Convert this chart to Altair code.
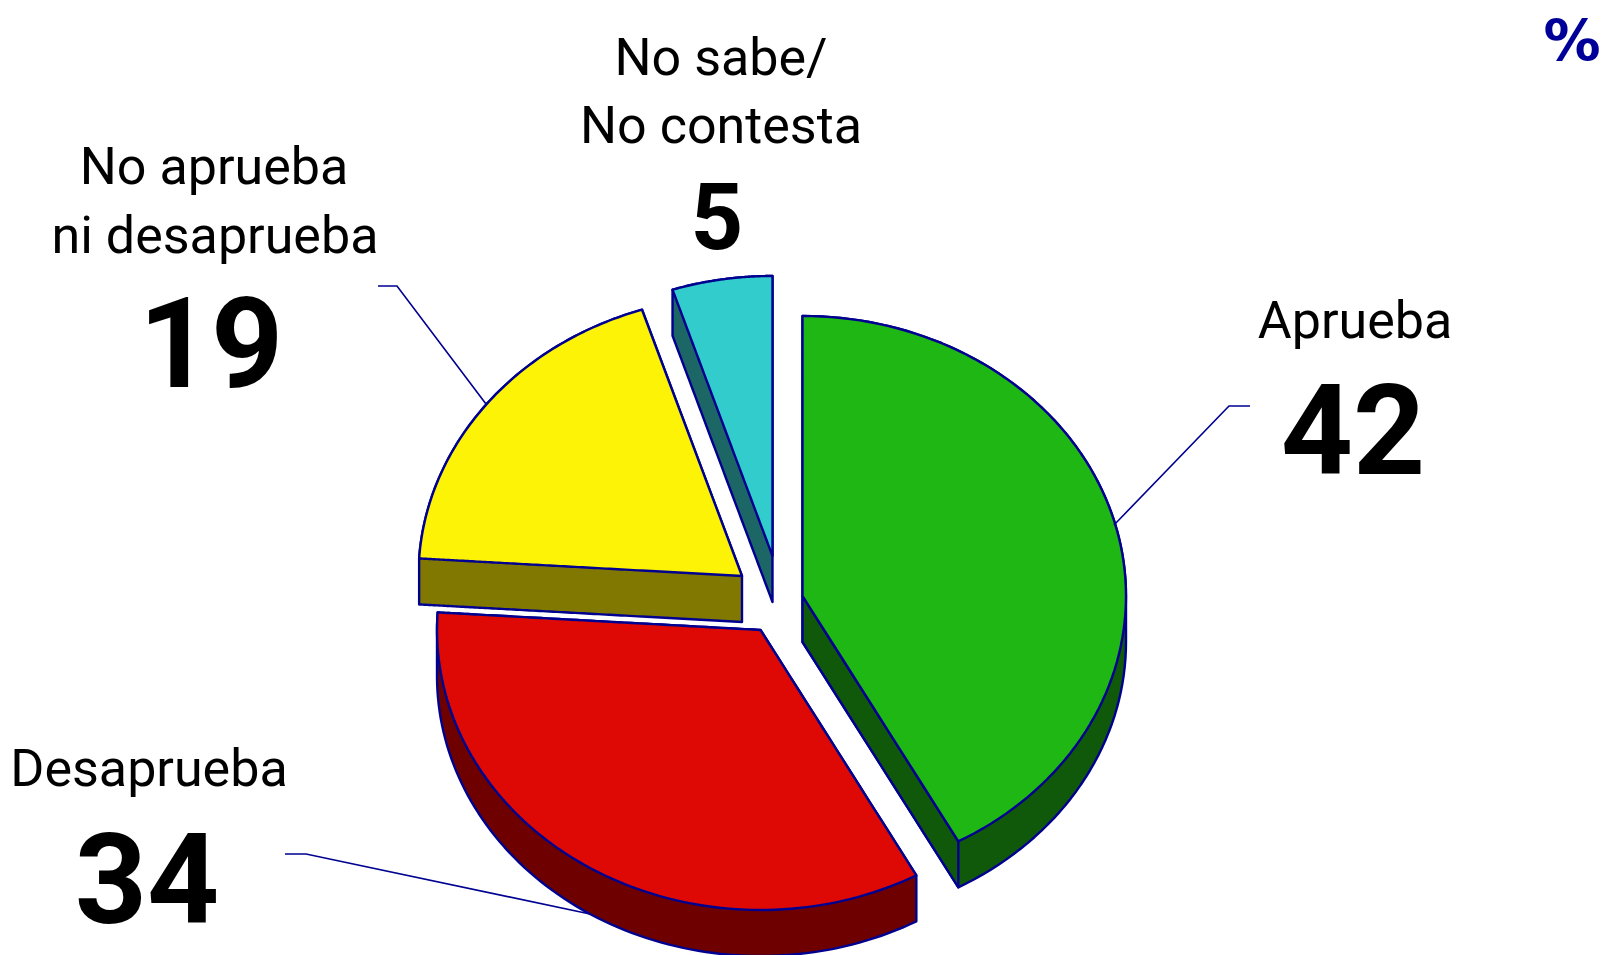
import numpy as np
import pandas as pd
import altair as alt

# ---- values ----
categories = ["Aprueba", "Desaprueba", "No aprueba ni desaprueba", "No sabe/No contesta"]
values = [42, 34, 19, 5]
value_labels = ["42", "34", "19", "5"]

# ---- layout and style ----
W, H = 1594, 939
RX, RY, DEPTH = 323.5, 280, 46
APEX = {"Aprueba": (802.5, 596), "Desaprueba": (760.5, 630),
        "No aprueba ni desaprueba": (742, 576), "No sabe/No contesta": (772.5, 556)}
TOP = {"Aprueba": "#1FB714", "Desaprueba": "#DE0905",
       "No aprueba ni desaprueba": "#FDF306", "No sabe/No contesta": "#33CCCC"}
SIDE = {"Aprueba": "#10590B", "Desaprueba": "#6E0000",
        "No aprueba ni desaprueba": "#807800", "No sabe/No contesta": "#1C6666"}
NAVY = "#000090"
LABEL_FONT = "Roboto"
NUM_FONT = "Roboto"

x_scale = alt.Scale(domain=[8, 8 + W], range=[0, W], nice=False, zero=False)
y_scale = alt.Scale(domain=[8, 8 + H], range=[0, H], nice=False, zero=False)


def envelope(points, depth=0.0):
    """x-monotone top/bottom outline of a convex shape, bottom pushed down by depth."""
    pts = np.array(points, dtype=float)
    closed = np.vstack([pts, pts[:1]])
    xs = np.unique(np.round(pts[:, 0], 3))
    rows = []
    for x in xs:
        ys = []
        for (x0, y0), (x1, y1) in zip(closed[:-1], closed[1:]):
            lo, hi = min(x0, x1), max(x0, x1)
            if lo - 1e-3 <= x <= hi + 1e-3:
                if abs(x1 - x0) < 1e-3:
                    ys += [y0, y1]
                else:
                    ys.append(y0 + (y1 - y0) * (x - x0) / (x1 - x0))
        rows.append({"x": x, "y": min(ys), "y2": max(ys) + depth})
    return pd.DataFrame(rows)


def area(df, fill, width=2.4):
    return alt.Chart(df).mark_area(
        fill=fill, stroke=NAVY, strokeWidth=width, strokeJoin="round", opacity=1
    ).encode(
        x=alt.X("x:Q", scale=x_scale, axis=None),
        y=alt.Y("y:Q", scale=y_scale, axis=None, stack=None),
        y2="y2:Q",
    )


def rim(apex, a0, a1):
    t = np.radians(np.linspace(a0, a1, 90))
    return list(zip(apex[0] + RX * np.sin(t), apex[1] - RY * np.cos(t)))


layers = []
total = sum(values)
cum = 0.0
for cat, val in zip(categories, values):
    a0, a1 = 360 * cum / total, 360 * (cum + val) / total
    cum += val
    apex = APEX[cat]
    wedge = [apex] + rim(apex, a0, a1)
    layers.append(area(envelope(wedge, DEPTH), SIDE[cat]))
    if cat == "Aprueba":   # the cut face shows as a separate wall
        end = rim(apex, a1, a1)[0]
        layers.append(area(envelope([apex, end], DEPTH), SIDE[cat]))
    layers.append(area(envelope(wedge), TOP[cat]))

# ---- leader lines ----
leaders = {
    "Aprueba": ([1250, 1229, 1114], [406, 406, 525]),
    "Desaprueba": ([285, 306, 590], [854, 854, 914]),
    "No aprueba ni desaprueba": ([378, 397, 486], [286, 286, 404]),
}
for cat, (lx, ly) in leaders.items():
    df = pd.DataFrame({"x": lx, "y": ly, "o": range(len(lx))})
    layers.append(alt.Chart(df).mark_line(color=NAVY, strokeWidth=1.6).encode(
        x=alt.X("x:Q", scale=x_scale, axis=None),
        y=alt.Y("y:Q", scale=y_scale, axis=None),
        order="o:Q",
    ))

# ---- texts ----
labels = pd.DataFrame([
    {"t": "No sabe/", "x": 721, "y": 75},
    {"t": "No contesta", "x": 721, "y": 143},
    {"t": "No aprueba", "x": 214, "y": 184},
    {"t": "ni desaprueba", "x": 215, "y": 253},
    {"t": "Aprueba", "x": 1355, "y": 338},
    {"t": "Desaprueba", "x": 149, "y": 786},
])
layers.append(alt.Chart(labels).mark_text(
    font=LABEL_FONT, fontSize=52, color="#000000", align="center", baseline="alphabetic"
).encode(
    x=alt.X("x:Q", scale=x_scale, axis=None),
    y=alt.Y("y:Q", scale=y_scale, axis=None),
    text="t:N",
))

numbers = pd.DataFrame({
    "t": value_labels,
    "x": [1353, 147, 211, 717],
    "y": [474, 923, 387, 249],
    "s": [126, 126, 126, 92],
})
for s, grp in numbers.groupby("s"):
    layers.append(alt.Chart(grp).mark_text(
        font=NUM_FONT, fontWeight="bold", fontSize=int(s), color="#000000",
        align="center", baseline="alphabetic"
    ).encode(
        x=alt.X("x:Q", scale=x_scale, axis=None),
        y=alt.Y("y:Q", scale=y_scale, axis=None),
        text="t:N",
    ))

pct = pd.DataFrame({"t": ["%"], "x": [1572], "y": [61]})
layers.append(alt.Chart(pct).mark_text(
    font="DejaVu Sans", fontWeight="bold", fontSize=57, color="#000099",
    align="center", baseline="alphabetic"
).encode(
    x=alt.X("x:Q", scale=x_scale, axis=None),
    y=alt.Y("y:Q", scale=y_scale, axis=None),
    text="t:N",
))

chart = alt.layer(*layers).properties(
    width=W, height=H, padding=0, background="#FFFFFF"
).configure_view(stroke=None)

chart.save("out.html", embed_options={"renderer": "svg", "actions": False})
